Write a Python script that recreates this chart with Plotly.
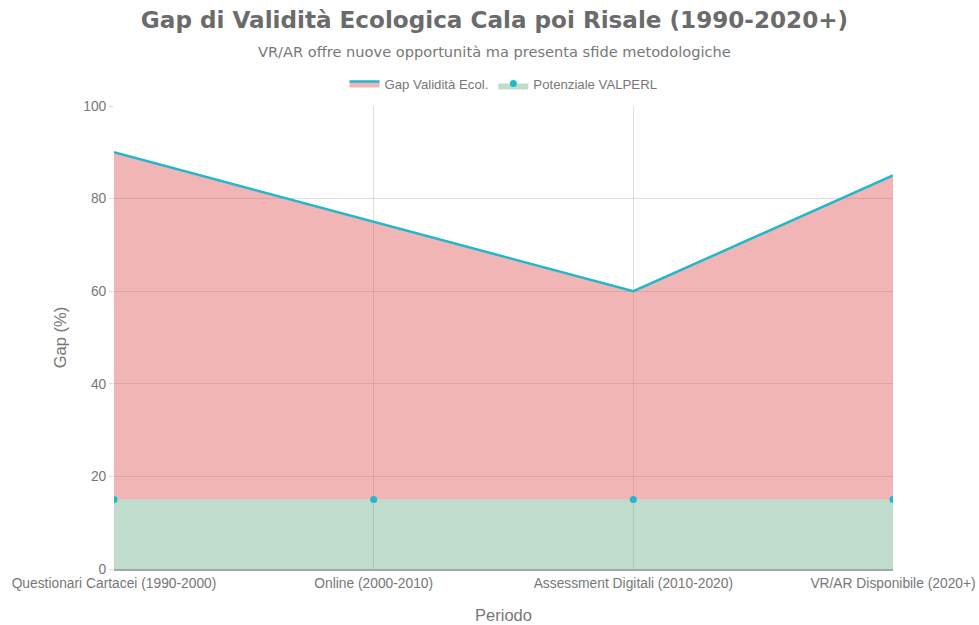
import plotly.graph_objects as go

periods = ["Questionari Cartacei (1990-2000)", "Online (2000-2010)",
           "Assessment Digitali (2010-2020)", "VR/AR Disponibile (2020+)"]
gap_values = [90, 75, 60, 85]
valperl_values = [15, 15, 15, 15]

FONT = "Liberation Sans, Arial, sans-serif"
W, H = 979, 625
L, R, T, B = 114, 86, 106, 56
PH = H - T - B
PW = W - L - R

fig = go.Figure()
fig.add_trace(go.Scatter(
    x=periods, y=valperl_values, name="Potenziale VALPERL",
    mode="lines+markers", fill="tozeroy",
    fillcolor="rgba(46,139,87,0.3)",
    line=dict(color="rgba(46,139,87,0.3)", width=0),
    marker=dict(color="#1FB8CD", size=7),
    legendrank=2,
))
fig.add_trace(go.Scatter(
    x=periods, y=gap_values, name="Gap Validità Ecol.",
    mode="lines", fill="tonexty",
    fillcolor="rgba(219,69,69,0.4)",
    line=dict(color="#1FB8CD", width=2.5),
    legendrank=1,
))

tick_font = dict(family=FONT, size=13.8, color="#777")

fig.update_layout(
    width=W, height=H,
    paper_bgcolor="white", plot_bgcolor="white",
    margin=dict(l=L, r=R, t=T, b=B, autoexpand=False),
    title=dict(
        text="<b>Gap di Validità Ecologica Cala poi Risale (1990-2020+)</b>",
        x=494.5 / W, xanchor="center", xref="container", y=1 - 20 / H, yanchor="middle", yref="container",
        font=dict(family="DejaVu Sans, sans-serif", size=23.1, color="#6b6b6b"),
        automargin=False,
    ),
    annotations=[dict(
        text="VR/AR offre nuove opportunità ma presenta sfide metodologiche",
        xref="paper", yref="paper", x=(494 - L) / PW, y=1 + (T - 51) / PH,
        xanchor="center", yanchor="middle", showarrow=False,
        font=dict(family="DejaVu Sans, sans-serif", size=14.6, color="#777"),
    )],
    legend=dict(orientation="h", x=0.5, xanchor="center", y=1 + (T - 84) / PH, yanchor="middle",
                traceorder="normal", itemwidth=30,
                font=dict(family=FONT, size=13.2, color="#777"),
                bgcolor="rgba(0,0,0,0)"),
    showlegend=True,
)
fig.update_xaxes(
    type="category", range=[0, 3], automargin=False, ticklabeloverflow="allow",
    showgrid=True, gridcolor="rgba(0,0,0,0.12)", gridwidth=1,
    showline=True, linecolor="rgba(100,110,105,0.6)", linewidth=2,
    tickfont=tick_font,
    title=dict(text="Periodo", font=dict(family=FONT, size=16.5, color="#777"), standoff=20),
)
fig.update_yaxes(
    range=[0, 100], dtick=20, automargin=False,
    showgrid=True, gridcolor="rgba(0,0,0,0.12)", gridwidth=1,
    zeroline=False,
    ticks="outside", ticklen=4, tickcolor="rgba(0,0,0,0.15)",
    tickfont=tick_font,
    title=dict(text="Gap (%)", font=dict(family=FONT, size=16.5, color="#777"), standoff=12),
)

fig.write_html("out.html",
               config={"displayModeBar": False},
               post_script="document.body.style.margin='0';document.body.style.overflow='hidden';")
